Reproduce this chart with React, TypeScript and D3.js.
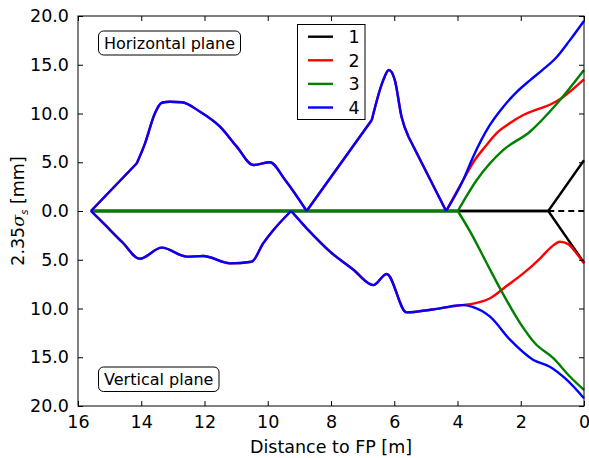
import React, { useEffect, useRef } from 'react';
import * as d3 from 'd3';

// x: distance to FP [m], y: 2.35 sigma [mm] (vertical plane drawn negative)
const xTicks = [16, 14, 12, 10, 8, 6, 4, 2, 0];
const yTicks = [20, 15, 10, 5, 0, -5, -10, -15, -20];

// shared upstream envelope (series 2 and 4 follow it up to ~4 m)
const commonH: [number, number][] = [
  [15.59, 0], [14.14, 4.9], [13.88, 6.94], [13.57, 10.0], [13.35, 11.1], [13.09, 11.2],
  [12.72, 11.15], [12.14, 10.18], [11.51, 8.65], [10.98, 6.6], [10.46, 4.72], [9.93, 5.0],
  [9.45, 3.18], [8.77, 0], [6.71, 9.33], [6.35, 13.4], [6.17, 14.46], [5.98, 13.4],
  [5.77, 9.67], [5.55, 7.62], [4.36, 0], [3.82, 3.18]
];
const commonV: [number, number][] = [
  [15.59, 0], [15.3, -0.92], [14.6, -3.2], [14.05, -4.9], [13.35, -3.76], [12.56, -4.68],
  [12.04, -4.62], [11.19, -5.37], [10.51, -5.2], [10.14, -3.3], [9.82, -1.95], [9.26, 0],
  [8.77, -1.78], [8.03, -4.17], [7.3, -6.0], [6.66, -7.6], [6.24, -6.46], [5.61, -10.4],
  [4.8, -10.1], [3.85, -9.65]
];

const hTail2: [number, number][] = [[3.5, 5.0], [3.1, 6.7], [2.77, 7.97], [2.35, 9.0], [1.92, 9.85], [1.5, 10.4], [1.08, 10.9], [0.71, 11.56], [0.35, 12.5], [0, 13.5]];
const hTail4: [number, number][] = [[3.5, 5.6], [3.0, 8.7], [2.55, 10.7], [2.1, 12.3], [1.71, 13.4], [1.3, 14.5], [0.86, 15.8], [0.45, 17.5], [0, 19.5]];
const vTail2: [number, number][] = [[3.5, -9.5], [2.97, -8.95], [2.45, -7.7], [1.92, -6.4], [1.4, -4.9], [1.0, -3.6], [0.76, -3.15], [0.5, -3.4], [0.2, -4.5], [0, -5.37]];
const vTail4: [number, number][] = [[3.55, -9.8], [2.97, -10.84], [2.34, -13.2], [1.6, -15.28], [1.08, -15.97], [0.55, -17.3], [0, -19.2]];

const h1: [number, number][] = [[15.59, 0], [1.13, 0], [0, 5.2]];
const v1: [number, number][] = [[15.59, 0], [1.13, 0], [0, -5.3]];
const h3: [number, number][] = [[15.59, 0], [3.99, 0], [3.39, 3.18], [2.55, 6.26], [1.71, 8.13], [0.86, 11.0], [0, 14.46]];
const v3: [number, number][] = [[15.59, 0], [3.99, 0], [3.6, -2.12], [3.1, -5.2], [2.6, -8.27], [2.02, -11.5], [1.55, -13.57], [0.97, -15.1], [0.44, -17.0], [0, -18.36]];

// positions where a curve has a sharp corner
const corners = [14.14, 9.26, 8.77, 6.71, 5.55, 4.36, 3.99, 1.13];

const labels = ['1', '2', '3', '4'];
const colors = ['#000000', '#ff0000', '#008000', '#0000ff'];

const series = [
  { h: h1, v: v1 },
  { h: [...commonH, ...hTail2], v: [...commonV, ...vTail2] },
  { h: h3, v: v3 },
  { h: [...commonH, ...hTail4], v: [...commonV, ...vTail4] }
];

const W = 589, H = 458;
const M = { left: 78, right: 5, top: 16, bottom: 52 };
const FONT = 'DejaVu Sans, sans-serif';

const Chart = () => {
  const ref = useRef<SVGSVGElement>(null);

  useEffect(() => {
    const svg = d3.select(ref.current);
    svg.selectAll('*').remove();

    const x = d3.scaleLinear().domain([16, 0]).range([M.left, W - M.right]);
    const y = d3.scaleLinear().domain([-20, 20]).range([H - M.bottom, M.top]);

    const g = svg.append('g');

    const line = d3.line<[number, number]>()
      .x(d => x(d[0]))
      .y(d => y(d[1]))
      .curve(d3.curveMonotoneX);

    // split at corners so the kinks stay sharp
    const pieces = (pts: [number, number][]) => {
      const out: [number, number][][] = [];
      let cur: [number, number][] = [];
      pts.forEach((p, i) => {
        cur.push(p);
        if (i > 0 && i < pts.length - 1 && corners.includes(p[0])) {
          out.push(cur);
          cur = [p];
        }
      });
      out.push(cur);
      return out;
    };

    series.forEach((s, i) => {
      [s.h, s.v].forEach(pts => {
        const d = pieces(pts).map(p => line(p)).join('');
        g.append('path')
          .attr('d', d)
          .attr('fill', 'none')
          .attr('stroke', colors[i])
          .attr('stroke-width', 2.4)
          .attr('stroke-linejoin', 'round');
      });
    });

    // dashed zero line after series 1 splits
    g.append('path')
      .attr('d', d3.line<[number, number]>().x(d => x(d[0])).y(d => y(d[1]))([[1.13, 0], [0, 0]]))
      .attr('stroke', '#000')
      .attr('stroke-width', 2)
      .attr('stroke-dasharray', '6,4');

    // frame
    g.append('rect')
      .attr('x', M.left).attr('y', M.top)
      .attr('width', W - M.left - M.right).attr('height', H - M.top - M.bottom)
      .attr('fill', 'none').attr('stroke', '#000').attr('stroke-width', 1);

    const fmt = (d: number) => Math.abs(d).toFixed(1);

    const bottom = d3.axisBottom(x).tickValues(xTicks).tickSizeInner(-5).tickSizeOuter(0).tickPadding(10).tickFormat(d => String(d));
    const top = d3.axisTop(x).tickValues(xTicks).tickSizeInner(-5).tickSizeOuter(0).tickFormat(() => '');
    const left = d3.axisLeft(y).tickValues(yTicks).tickSizeInner(-5).tickSizeOuter(0).tickPadding(9).tickFormat(d => fmt(d as number));
    const right = d3.axisRight(y).tickValues(yTicks).tickSizeInner(-5).tickSizeOuter(0).tickFormat(() => '');

    const axes = [
      { a: bottom, t: `translate(0,${H - M.bottom})` },
      { a: top, t: `translate(0,${M.top})` },
      { a: left, t: `translate(${M.left},0)` },
      { a: right, t: `translate(${W - M.right},0)` }
    ];
    axes.forEach(({ a, t }) => {
      const ax = g.append('g').attr('transform', t).call(a as any);
      ax.select('.domain').remove();
      ax.selectAll('text').attr('font-family', FONT).attr('font-size', 17.5).attr('fill', '#000');
    });

    // axis labels
    svg.append('text')
      .attr('x', (M.left + W - M.right) / 2).attr('y', 453)
      .attr('text-anchor', 'middle')
      .attr('font-family', FONT).attr('font-size', 17.5)
      .text('Distance to FP [m]');

    const yl = svg.append('text')
      .attr('transform', `translate(24,${(M.top + H - M.bottom) / 2}) rotate(-90)`)
      .attr('text-anchor', 'middle')
      .attr('font-family', FONT).attr('font-size', 17.5);
    yl.append('tspan').text('2.35');
    yl.append('tspan').attr('font-style', 'italic').attr('font-family', 'DejaVu Serif, serif').text('σ');
    yl.append('tspan').attr('font-style', 'italic').attr('font-size', 10).attr('dy', 4).text('s');
    yl.append('tspan').attr('dy', -4).text(' [mm]');

    // plane boxes
    const boxes = [
      { text: 'Horizontal plane', x: 98.5, y: 31, w: 142, h: 24 },
      { text: 'Vertical plane', x: 98.5, y: 367, w: 120.5, h: 24.5 }
    ];
    boxes.forEach(b => {
      svg.append('rect')
        .attr('x', b.x).attr('y', b.y).attr('width', b.w).attr('height', b.h)
        .attr('rx', 5).attr('fill', '#fff').attr('stroke', '#000').attr('stroke-width', 1);
      svg.append('text')
        .attr('x', b.x + b.w / 2).attr('y', b.y + b.h / 2 + 6)
        .attr('text-anchor', 'middle')
        .attr('font-family', FONT).attr('font-size', 16)
        .text(b.text);
    });

    // legend
    const lg = svg.append('g');
    lg.append('rect')
      .attr('x', 297.5).attr('y', 24.5).attr('width', 67.5).attr('height', 95)
      .attr('fill', '#fff').attr('stroke', '#000').attr('stroke-width', 1);
    labels.forEach((l, i) => {
      const yy = 36.7 + i * 23.6;
      lg.append('line')
        .attr('x1', 308).attr('x2', 333).attr('y1', yy).attr('y2', yy)
        .attr('stroke', colors[i]).attr('stroke-width', 2.4);
      lg.append('text')
        .attr('x', 354).attr('y', yy + 6.5)
        .attr('text-anchor', 'middle')
        .attr('font-family', FONT).attr('font-size', 17.5)
        .text(l);
    });
  }, []);

  return <svg ref={ref} width={W} height={H} style={{ display: 'block', position: 'absolute', left: 0, top: 0 }} />;
};

export default function App() {
  return <Chart />;
}
